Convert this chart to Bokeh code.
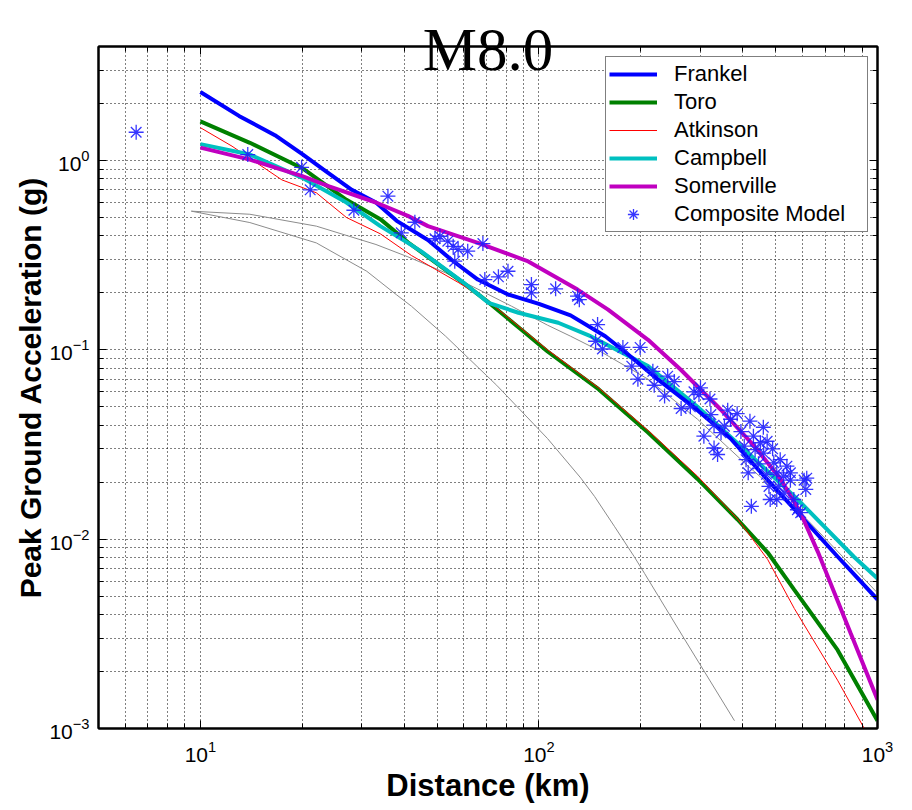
from bokeh.plotting import figure
from bokeh.models import LogAxis, FixedTicker, Legend, LegendItem, CustomJSTickFormatter
from bokeh.embed import file_html
from bokeh.resources import INLINE

# ---------------- data ----------------
frankel_d = [10, 13, 16.6, 20, 23, 28, 33, 38, 47, 55, 66, 81, 100, 124, 157, 179, 224, 294, 368, 464, 581, 762, 1000]
frankel_pga = [2.30, 1.72, 1.36, 1.08, 0.90, 0.70, 0.60, 0.48, 0.38, 0.30, 0.235, 0.196, 0.175, 0.152, 0.118, 0.098,
               0.070, 0.048, 0.034, 0.0214, 0.0138, 0.0081, 0.0048]

toro_d = [10, 14, 20, 27, 34, 41, 58, 71, 91, 106, 150, 210, 294, 386, 474, 568, 762, 1000]
toro_pga = [1.61, 1.24, 0.91, 0.62, 0.49, 0.37, 0.235, 0.178, 0.123, 0.098, 0.062, 0.0366, 0.0208, 0.0127, 0.0085,
            0.0054, 0.0026, 0.0011]

atkinson_d = [10, 12.4, 17.4, 22, 27, 34, 42, 58, 71, 91, 106, 150, 210, 294, 386, 474, 568, 762, 914, 1000]
atkinson_pga = [1.49, 1.19, 0.79, 0.675, 0.50, 0.41, 0.315, 0.226, 0.18, 0.125, 0.10, 0.063, 0.0375, 0.0215, 0.0128,
                0.0078, 0.0043, 0.0018, 0.001, 0.00072]

campbell_d = [10, 14, 20, 27, 34, 41, 45, 60, 71, 87, 114, 142, 210, 294, 415, 581, 850, 1000]
campbell_pga = [1.22, 1.075, 0.81, 0.60, 0.45, 0.367, 0.33, 0.226, 0.177, 0.157, 0.139, 0.118, 0.082, 0.050, 0.0285,
                0.0162, 0.0081, 0.0062]

somerville_d = [10, 14, 20, 24, 33, 41, 47, 66, 93, 130, 160, 210, 262, 344, 434, 518, 593, 666, 832, 1000]
somerville_pga = [1.17, 1.01, 0.826, 0.73, 0.60, 0.51, 0.45, 0.367, 0.293, 0.208, 0.163, 0.113, 0.0787, 0.0484,
                  0.0308, 0.0207, 0.0137, 0.0086, 0.0032, 0.00142]

gray_upper_d = [9.4, 14, 22, 33, 41, 53, 83, 106, 124, 149, 210, 294, 415, 581, 1000]
gray_upper_pga = [0.54, 0.52, 0.45, 0.36, 0.31, 0.255, 0.17, 0.135, 0.118, 0.10, 0.07, 0.043, 0.0243, 0.0143, 0.0052]

gray_lower_d = [9.4, 14, 22, 31, 38, 42, 53, 75, 106, 133, 146, 167, 191, 205, 268, 378]
gray_lower_pga = [0.54, 0.47, 0.367, 0.26, 0.195, 0.17, 0.118, 0.065, 0.034, 0.021, 0.0168, 0.0117, 0.0081, 0.0066,
                  0.003, 0.0011]

composite_d = [6.46, 13.8, 19.9, 21.1, 28.4, 35.8, 39.2, 43, 49.3, 51, 53.8, 55.8, 57.7, 61.6, 68.3, 56.4, 69.2, 75.9,
               81, 95, 95, 112, 130, 131.6, 149, 147, 154, 177, 199, 188, 196, 217, 219, 235, 240, 251, 263, 280, 287,
               297, 307, 322, 329, 329, 337, 345, 353, 361, 368, 395, 404, 409, 415, 424, 430, 435, 451, 461, 472, 478,
               482, 494, 504, 504, 516, 528, 540, 553, 553, 566, 580, 593, 607, 614, 618,
               445, 470, 490, 510, 530, 460, 420, 385, 300, 320]
composite_pga = [1.41, 1.075, 0.92, 0.70, 0.546, 0.648, 0.415, 0.472, 0.386, 0.398, 0.375, 0.352, 0.339, 0.332, 0.364,
                 0.294, 0.235, 0.243, 0.26, 0.221, 0.20, 0.21, 0.192, 0.184, 0.136, 0.111, 0.101, 0.103, 0.103, 0.082,
                 0.07, 0.077, 0.065, 0.057, 0.0726, 0.068, 0.049, 0.050, 0.060, 0.058, 0.035, 0.0455, 0.040, 0.0303,
                 0.028, 0.0365, 0.0395, 0.048, 0.043, 0.037, 0.031, 0.0263, 0.0224, 0.0149, 0.035, 0.0297, 0.0323,
                 0.0285, 0.0329, 0.019, 0.0162, 0.0253, 0.0224, 0.0162, 0.0263, 0.0215, 0.0243, 0.0205, 0.0224, 0.0162,
                 0.0143, 0.0138, 0.0205, 0.0183, 0.021,
                 0.025, 0.022, 0.030, 0.019, 0.0175, 0.039, 0.042, 0.046, 0.063, 0.055]

x_major = [10, 100, 1000]
x_minor = [5, 6, 7, 8, 9, 20, 30, 40, 50, 60, 70, 80, 90, 200, 300, 400, 500, 600, 700, 800, 900]
y_major = [0.001, 0.01, 0.1, 1]
y_minor = [m * d for d in (0.001, 0.01, 0.1) for m in range(2, 10)] + [2, 3, 4]

title_text = "M8.0"
x_label = "Distance (km)"
y_label = "Peak Ground Acceleration (g)"

# ---------------- figure ----------------
p = figure(frame_width=779, frame_height=682,
           x_axis_type="log", y_axis_type="log",
           x_range=(5, 1000), y_range=(0.001, 4),
           output_backend="svg", toolbar_location=None,
           min_border_left=98, min_border_right=24, min_border_top=46, min_border_bottom=70,
           background_fill_color="white", border_fill_color="white")

xt = FixedTicker(ticks=x_major, minor_ticks=x_minor)
yt = FixedTicker(ticks=y_major, minor_ticks=y_minor)

for ax, t in ((p.xaxis[0], xt), (p.yaxis[0], yt)):
    ax.ticker = t
    ax.axis_line_width = 2
    ax.axis_line_color = "black"
    ax.major_tick_in = 8
    ax.major_tick_out = 0
    ax.minor_tick_in = 5
    ax.minor_tick_out = 0
    ax.major_tick_line_color = "black"
    ax.minor_tick_line_color = "black"
    ax.major_label_text_font = "Liberation Sans"
    ax.major_label_text_font_size = "21px"
    ax.major_label_text_color = "black"
    ax.axis_label_text_font = "Liberation Sans"
    ax.axis_label_text_font_style = "bold"
    ax.axis_label_text_color = "black"

p.xaxis.axis_label = x_label
p.yaxis.axis_label = y_label
p.xaxis.axis_label_text_font_size = "31px"
p.yaxis.axis_label_text_font_size = "30px"
p.xaxis.major_label_standoff = 12
p.xaxis.axis_label_standoff = 3
p.yaxis.major_label_standoff = 9
p.yaxis.axis_label_standoff = -1

blank = CustomJSTickFormatter(code="return ''")
# mirrored tick axes on top and right (no labels)
for loc, t in (("above", xt), ("right", yt)):
    ax = LogAxis(ticker=t, formatter=blank, axis_line_width=2, major_tick_in=8, major_tick_out=0,
                 minor_tick_in=5, minor_tick_out=0, major_label_text_font_size="2px",
                 major_label_standoff=0)
    p.add_layout(ax, loc)

# title drawn as the label of an invisible outer top axis (centred over its bounds)
title_axis = LogAxis(ticker=FixedTicker(ticks=[]), formatter=blank, bounds=(5, 617),
                     axis_line_color=None, major_tick_line_color=None, minor_tick_line_color=None,
                     major_tick_in=0, major_tick_out=0, minor_tick_in=0, minor_tick_out=0,
                     major_label_text_font_size="1px", major_label_standoff=0,
                     axis_label=title_text, axis_label_text_font="Liberation Serif",
                     axis_label_text_font_size="61px", axis_label_text_font_style="normal",
                     axis_label_text_color="black", axis_label_standoff=-36)
p.add_layout(title_axis, "above")

for g, t in ((p.xgrid[0], xt), (p.ygrid[0], yt)):
    g.ticker = t
    g.grid_line_color = "black"
    g.grid_line_dash = "1 3"
    g.grid_line_width = 1
    g.minor_grid_line_color = "black"
    g.minor_grid_line_dash = "1 3"
    g.minor_grid_line_width = 1

p.outline_line_color = "black"
p.outline_line_width = 2

# gray reference curves
p.line(gray_upper_d, gray_upper_pga, line_color="#8c8c8c", line_width=1)
p.line(gray_lower_d, gray_lower_pga, line_color="#8c8c8c", line_width=1)

r_toro = p.line(toro_d, toro_pga, line_color="#008000", line_width=4)
r_atk = p.line(atkinson_d, atkinson_pga, line_color="#ff0000", line_width=1)
r_camp = p.line(campbell_d, campbell_pga, line_color="#00c0c0", line_width=4)
r_frank = p.line(frankel_d, frankel_pga, line_color="#0000ff", line_width=4)
r_som = p.line(somerville_d, somerville_pga, line_color="#c000c0", line_width=4)
r_comp = p.scatter(composite_d, composite_pga, marker="asterisk", size=15,
                   line_color="#2020ff", line_width=1.3, line_alpha=0.9)

legend = Legend(items=[
    LegendItem(label="Frankel", renderers=[r_frank]),
    LegendItem(label="Toro", renderers=[r_toro]),
    LegendItem(label="Atkinson", renderers=[r_atk]),
    LegendItem(label="Campbell", renderers=[r_camp]),
    LegendItem(label="Somerville", renderers=[r_som]),
    LegendItem(label="Composite Model", renderers=[r_comp]),
], location=(507, 496))
legend.label_text_font = "Liberation Sans"
legend.label_text_font_size = "22px"
legend.label_text_color = "black"
legend.label_height = 28
legend.glyph_height = 28
legend.glyph_width = 48
legend.label_standoff = 17
legend.label_width = 190
legend.spacing = 0
legend.padding = 3
legend.margin = 0
legend.border_line_color = "black"
legend.border_line_width = 1.5
legend.background_fill_color = "white"
legend.background_fill_alpha = 1
p.add_layout(legend, "center")

open("out.html", "w").write(file_html(p, INLINE))
